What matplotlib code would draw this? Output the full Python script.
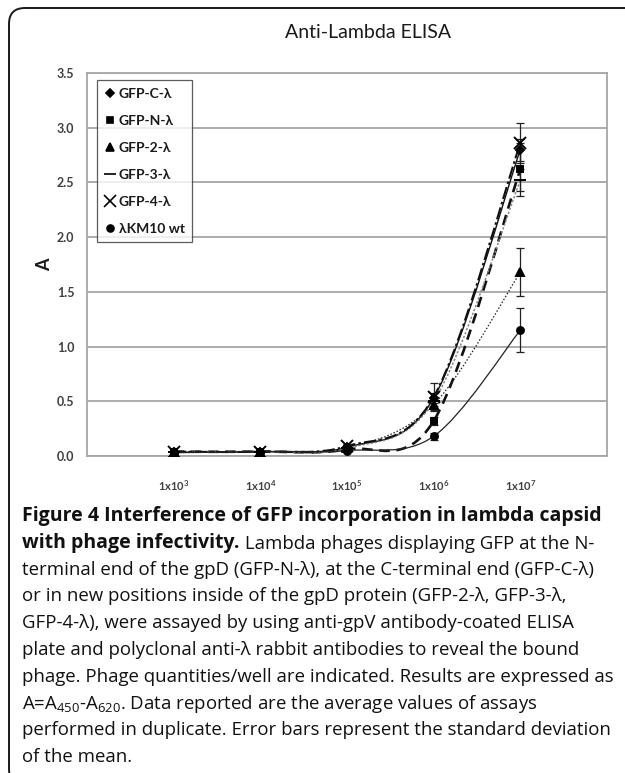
import numpy as np
import matplotlib
matplotlib.use("Agg")
import matplotlib.pyplot as plt
from matplotlib.path import Path
from matplotlib.patches import PathPatch, FancyBboxPatch
from matplotlib.lines import Line2D


# phage quantities / well (category axis)
doses = ["1x10^{3}", "1x10^{4}", "1x10^{5}", "1x10^{6}", "1x10^{7}"]

series_names = ["GFP-C-λ", "GFP-N-λ", "GFP-2-λ", "GFP-3-λ", "GFP-4-λ", "λKM10 wt"]

gfp_c = [0.04, 0.04, 0.08, 0.53, 2.80]
gfp_n = [0.04, 0.04, 0.06, 0.32, 2.62]
gfp_2 = [0.04, 0.04, 0.07, 0.47, 1.68]
gfp_3 = [0.04, 0.04, 0.07, 0.50, 2.52]
gfp_4 = [0.04, 0.04, 0.09, 0.54, 2.86]
km10_wt = [0.03, 0.04, 0.05, 0.18, 1.15]

err_c = [0.01, 0.01, 0.02, 0.05, 0.10]
err_n = [0.01, 0.01, 0.02, 0.04, 0.24]
err_2 = [0.01, 0.01, 0.02, 0.05, 0.22]
err_3 = [0.01, 0.01, 0.02, 0.04, 0.10]
err_4 = [0.01, 0.01, 0.02, 0.13, 0.18]
err_wt = [0.01, 0.01, 0.01, 0.03, 0.20]

caption_lines = [
    ("Figure 4 Interference of GFP incorporation in lambda capsid", ""),
    ("with phage infectivity.", " Lambda phages displaying GFP at the N-"),
    ("", "terminal end of the gpD (GFP-N-λ), at the C-terminal end (GFP-C-λ)"),
    ("", "or in new positions inside of the gpD protein (GFP-2-λ, GFP-3-λ,"),
    ("", "GFP-4-λ), were assayed by using anti-gpV antibody-coated ELISA"),
    ("", "plate and polyclonal anti-λ rabbit antibodies to reveal the bound"),
    ("", "phage. Phage quantities/well are indicated. Results are expressed as"),
    ("", r"A=A$_{\mathrm{450}}$-A$_{\mathrm{620}}$. Data reported are the average values of assays"),
    ("", "performed in duplicate. Error bars represent the standard deviation"),
    ("", "of the mean."),
]

CHART_FONT = ["Lato", "DejaVu Sans"]
CAP_FONT = ["Open Sans", "DejaVu Sans"]

plt.rcParams["font.family"] = CHART_FONT
plt.rcParams["mathtext.fontset"] = "custom"
plt.rcParams["mathtext.rm"] = "Open Sans"
plt.rcParams["mathtext.bf"] = "Lato:bold"


def smooth_path(xs, ys):
    # Excel-style smoothed line: Catmull-Rom turned into cubic Beziers
    pts = np.column_stack([xs, ys]).astype(float)
    n = len(pts)
    verts = [pts[0]]
    codes = [Path.MOVETO]
    for i in range(n - 1):
        p0 = pts[max(i - 1, 0)]
        p1 = pts[i]
        p2 = pts[i + 1]
        p3 = pts[min(i + 2, n - 1)]
        c1 = p1 + (p2 - p0) / 6.0
        c2 = p2 - (p3 - p1) / 6.0
        verts += [c1, c2, p2]
        codes += [Path.CURVE4] * 3
    return Path(verts, codes)


W, H = 625, 773
fig = plt.figure(figsize=(W / 100, H / 100), dpi=100)

# background axes in pixel coords (y down) for title, caption and frame
bg = fig.add_axes([0, 0, 1, 1], zorder=-1)
bg.set_xlim(0, W)
bg.set_ylim(H, 0)
bg.axis("off")

frame = FancyBboxPatch((0.09, -0.12), 7.0, (H - 8) / 100 + 0.12,
                       boxstyle="round,pad=0,rounding_size=0.16",
                       transform=fig.dpi_scale_trans, fill=False,
                       edgecolor="#1a1a1a", linewidth=1.4)
fig.add_artist(frame)

bg.text(368, 33, "Anti-Lambda ELISA", ha="center", va="center",
        fontsize=14, color="#1a1a1a")

ax = fig.add_axes([87 / W, 1 - 456 / H, (607 - 87) / W, (456 - 73) / H])
x = np.arange(1, len(doses) + 1)

values = [gfp_c, gfp_n, gfp_2, gfp_3, gfp_4, km10_wt]
errors = [err_c, err_n, err_2, err_3, err_4, err_wt]
markers = ["D", "s", "^", "_", "x", "o"]
msizes = [4.5, 5, 5.5, 8, 8, 5]
line_styles = [
    dict(color="#111111", lw=1.0, ls="-"),
    dict(color="#111111", lw=1.9, ls=(0, (4, 2.5))),
    dict(color="#222222", lw=0.9, ls=(0, (1.2, 1.5))),
    dict(color="#888888", lw=1.1, ls=(0, (1.5, 1.2))),
    dict(color="#111111", lw=1.5, ls=(0, (6, 1.5, 1.2, 1.5))),
    dict(color="#222222", lw=0.9, ls="-"),
]

for vals, errs, m, ms, st in zip(values, errors, markers, msizes, line_styles):
    ax.add_patch(PathPatch(smooth_path(x, vals), fill=False, zorder=3,
                           edgecolor=st["color"], linewidth=st["lw"],
                           linestyle=st["ls"]))
    ax.errorbar(x, vals, yerr=errs, fmt="none", ecolor="#222222",
                elinewidth=0.9, capsize=3, capthick=0.9, zorder=4)
    ax.plot(x, vals, ls="none", marker=m, ms=ms, color="k", mew=1.4, zorder=5)

ax.set_xlim(0, 6)
ax.set_ylim(0, 3.5)
ax.set_yticks(np.arange(0, 3.51, 0.5))
ax.set_yticklabels([f"{v:.1f}" for v in np.arange(0, 3.51, 0.5)],
                   fontsize=9, fontweight="bold", color="#404040")
ax.set_xticks(x)
ax.set_xticklabels([r"$\mathbf{" + d + "}$" for d in doses],
                   fontsize=8, color="#404040")
ax.tick_params(axis="both", length=0)
ax.tick_params(axis="y", pad=9)
ax.tick_params(axis="x", pad=16)
ax.yaxis.grid(True, color="#a6a6a6", linewidth=1.3)
ax.set_axisbelow(True)
for sp in ax.spines.values():
    sp.set_color("#a6a6a6")
    sp.set_linewidth(1.3)

ax.set_ylabel("A", fontsize=13, fontweight="bold", color="#1a1a1a")
ax.yaxis.set_label_coords(-0.066, 0.5)

handles = [Line2D([], [], ls="none", marker=m, ms=ms, color="k", mew=1.2)
           for m, ms in zip(markers, msizes)]
leg = ax.legend(handles, series_names, loc="upper left",
                bbox_to_anchor=(97 / W, 1 - 80 / H), bbox_transform=fig.transFigure,
                borderaxespad=0, frameon=True, fancybox=False,
                prop=dict(family=CHART_FONT, weight="bold", size=10),
                labelspacing=1.08, borderpad=0.55, handlelength=0.7,
                handletextpad=0.3)
leg.get_frame().set_edgecolor("#333333")
leg.get_frame().set_linewidth(0.9)
for t in leg.get_texts():
    t.set_color("#1a1a1a")

# caption
cap_x = 22
cap_y0 = 516
cap_step = 26.8
for i, (bold, reg) in enumerate(caption_lines):
    y = cap_y0 + i * cap_step
    if bold:
        tb = bg.text(cap_x, y, bold, family=CAP_FONT, fontweight="bold",
                     fontsize=14, va="center", ha="left", color="#111111")
        if reg:
            bg.annotate(reg, xy=(1, 0), xycoords=tb, va="bottom", ha="left",
                        family=CAP_FONT, fontsize=13.4, color="#111111")
    else:
        bg.text(cap_x, y, reg, family=CAP_FONT, fontsize=13.4,
                va="center", ha="left", color="#111111")

fig.savefig("out.png", dpi=100)
